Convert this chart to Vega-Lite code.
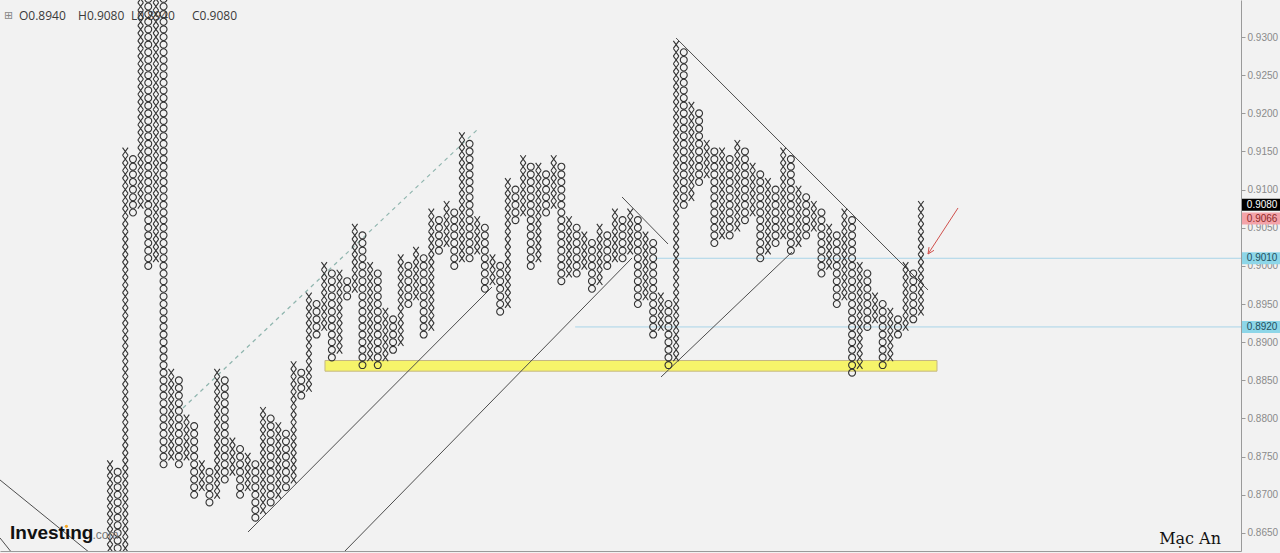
{
"$schema": "https://vega.github.io/schema/vega-lite/v6.json",
"width": 1241, "height": 551,
"autosize": {"type": "none"},
"padding": {"left": 0, "top": 0, "right": 39, "bottom": 2},
"background": "#f2f2f2",
"config": {"view": {"stroke": null}},
"datasets": {
"boxes": [
{"c":0,"t":"X","p":[0.862,0.863,0.864,0.865,0.866,0.867,0.868,0.869,0.870,0.871,0.872,0.873,0.874]},
{"c":1,"t":"O","p":[0.862,0.863,0.864,0.865,0.866,0.867,0.868,0.869,0.870,0.871,0.872,0.873]},
{"c":2,"t":"X","p":[0.862,0.863,0.864,0.865,0.866,0.867,0.868,0.869,0.870,0.871,0.872,0.873,0.874,0.875,0.876,0.877,0.878,0.879,0.880,0.881,0.882,0.883,0.884,0.885,0.886,0.887,0.888,0.889,0.890,0.891,0.892,0.893,0.894,0.895,0.896,0.897,0.898,0.899,0.900,0.901,0.902,0.903,0.904,0.905,0.906,0.907,0.908,0.909,0.910,0.911,0.912,0.913,0.914,0.915]},
{"c":3,"t":"O","p":[0.907,0.908,0.909,0.910,0.911,0.912,0.913,0.914]},
{"c":4,"t":"X","p":[0.908,0.909,0.910,0.911,0.912,0.913,0.914,0.915,0.916,0.917,0.918,0.919,0.920,0.921,0.922,0.923,0.924,0.925,0.926,0.927,0.928,0.929,0.930,0.931,0.932,0.933,0.934,0.935]},
{"c":5,"t":"O","p":[0.900,0.901,0.902,0.903,0.904,0.905,0.906,0.907,0.908,0.909,0.910,0.911,0.912,0.913,0.914,0.915,0.916,0.917,0.918,0.919,0.920,0.921,0.922,0.923,0.924,0.925,0.926,0.927,0.928,0.929,0.930,0.931,0.932,0.933,0.934,0.935]},
{"c":6,"t":"X","p":[0.901,0.902,0.903,0.904,0.905,0.906,0.907,0.908,0.909,0.910,0.911,0.912,0.913,0.914,0.915,0.916,0.917,0.918,0.919,0.920,0.921,0.922,0.923,0.924,0.925,0.926,0.927,0.928,0.929,0.930,0.931,0.932,0.933,0.934,0.935]},
{"c":7,"t":"O","p":[0.874,0.875,0.876,0.877,0.878,0.879,0.880,0.881,0.882,0.883,0.884,0.885,0.886,0.887,0.888,0.889,0.890,0.891,0.892,0.893,0.894,0.895,0.896,0.897,0.898,0.899,0.900,0.901,0.902,0.903,0.904,0.905,0.906,0.907,0.908,0.909,0.910,0.911,0.912,0.913,0.914,0.915,0.916,0.917,0.918,0.919,0.920,0.921,0.922,0.923,0.924,0.925,0.926,0.927,0.928,0.929,0.930,0.931,0.932,0.933,0.934,0.935]},
{"c":8,"t":"X","p":[0.875,0.876,0.877,0.878,0.879,0.880,0.881,0.882,0.883,0.884,0.885,0.886]},
{"c":9,"t":"O","p":[0.874,0.875,0.876,0.877,0.878,0.879,0.880,0.881,0.882,0.883,0.884,0.885]},
{"c":10,"t":"X","p":[0.875,0.876,0.877,0.878,0.879,0.880]},
{"c":11,"t":"O","p":[0.870,0.871,0.872,0.873,0.874,0.875,0.876,0.877,0.878,0.879]},
{"c":12,"t":"X","p":[0.871,0.872,0.873,0.874]},
{"c":13,"t":"O","p":[0.869,0.870,0.871,0.872,0.873]},
{"c":14,"t":"X","p":[0.870,0.871,0.872,0.873,0.874,0.875,0.876,0.877,0.878,0.879,0.880,0.881,0.882,0.883,0.884,0.885,0.886]},
{"c":15,"t":"O","p":[0.872,0.873,0.874,0.875,0.876,0.877,0.878,0.879,0.880,0.881,0.882,0.883,0.884,0.885]},
{"c":16,"t":"X","p":[0.873,0.874,0.875,0.876,0.877]},
{"c":17,"t":"O","p":[0.870,0.871,0.872,0.873,0.874,0.875,0.876]},
{"c":18,"t":"X","p":[0.871,0.872,0.873,0.874,0.875]},
{"c":19,"t":"O","p":[0.867,0.868,0.869,0.870,0.871,0.872,0.873,0.874]},
{"c":20,"t":"X","p":[0.868,0.869,0.870,0.871,0.872,0.873,0.874,0.875,0.876,0.877,0.878,0.879,0.880,0.881]},
{"c":21,"t":"O","p":[0.869,0.870,0.871,0.872,0.873,0.874,0.875,0.876,0.877,0.878,0.879,0.880]},
{"c":22,"t":"X","p":[0.870,0.871,0.872,0.873,0.874,0.875,0.876,0.877,0.878,0.879]},
{"c":23,"t":"O","p":[0.871,0.872,0.873,0.874,0.875,0.876,0.877,0.878]},
{"c":24,"t":"X","p":[0.872,0.873,0.874,0.875,0.876,0.877,0.878,0.879,0.880,0.881,0.882,0.883,0.884,0.885,0.886,0.887]},
{"c":25,"t":"O","p":[0.883,0.884,0.885,0.886]},
{"c":26,"t":"X","p":[0.884,0.885,0.886,0.887,0.888,0.889,0.890,0.891,0.892,0.893,0.894,0.895,0.896]},
{"c":27,"t":"O","p":[0.891,0.892,0.893,0.894,0.895]},
{"c":28,"t":"X","p":[0.892,0.893,0.894,0.895,0.896,0.897,0.898,0.899,0.900]},
{"c":29,"t":"O","p":[0.888,0.889,0.890,0.891,0.892,0.893,0.894,0.895,0.896,0.897,0.898,0.899]},
{"c":30,"t":"X","p":[0.889,0.890,0.891,0.892,0.893,0.894,0.895,0.896,0.897,0.898,0.899]},
{"c":31,"t":"O","p":[0.896,0.897,0.898]},
{"c":32,"t":"X","p":[0.897,0.898,0.899,0.900,0.901,0.902,0.903,0.904,0.905]},
{"c":33,"t":"O","p":[0.887,0.888,0.889,0.890,0.891,0.892,0.893,0.894,0.895,0.896,0.897,0.898,0.899,0.900,0.901,0.902,0.903,0.904]},
{"c":34,"t":"X","p":[0.888,0.889,0.890,0.891,0.892,0.893,0.894,0.895,0.896,0.897,0.898,0.899,0.900]},
{"c":35,"t":"O","p":[0.887,0.888,0.889,0.890,0.891,0.892,0.893,0.894,0.895,0.896,0.897,0.898,0.899]},
{"c":36,"t":"X","p":[0.888,0.889,0.890,0.891,0.892,0.893,0.894]},
{"c":37,"t":"O","p":[0.889,0.890,0.891,0.892,0.893]},
{"c":38,"t":"X","p":[0.890,0.891,0.892,0.893,0.894,0.895,0.896,0.897,0.898,0.899,0.900,0.901]},
{"c":39,"t":"O","p":[0.895,0.896,0.897,0.898,0.899,0.900]},
{"c":40,"t":"X","p":[0.896,0.897,0.898,0.899,0.900,0.901,0.902]},
{"c":41,"t":"O","p":[0.891,0.892,0.893,0.894,0.895,0.896,0.897,0.898,0.899,0.900,0.901]},
{"c":42,"t":"X","p":[0.892,0.893,0.894,0.895,0.896,0.897,0.898,0.899,0.900,0.901,0.902,0.903,0.904,0.905,0.906,0.907]},
{"c":43,"t":"O","p":[0.902,0.903,0.904,0.905,0.906]},
{"c":44,"t":"X","p":[0.903,0.904,0.905,0.906,0.907,0.908]},
{"c":45,"t":"O","p":[0.900,0.901,0.902,0.903,0.904,0.905,0.906,0.907]},
{"c":46,"t":"X","p":[0.901,0.902,0.903,0.904,0.905,0.906,0.907,0.908,0.909,0.910,0.911,0.912,0.913,0.914,0.915,0.916,0.917]},
{"c":47,"t":"O","p":[0.901,0.902,0.903,0.904,0.905,0.906,0.907,0.908,0.909,0.910,0.911,0.912,0.913,0.914,0.915,0.916]},
{"c":48,"t":"X","p":[0.902,0.903,0.904,0.905,0.906]},
{"c":49,"t":"O","p":[0.897,0.898,0.899,0.900,0.901,0.902,0.903,0.904,0.905]},
{"c":50,"t":"X","p":[0.898,0.899,0.900,0.901]},
{"c":51,"t":"O","p":[0.894,0.895,0.896,0.897,0.898,0.899,0.900]},
{"c":52,"t":"X","p":[0.895,0.896,0.897,0.898,0.899,0.900,0.901,0.902,0.903,0.904,0.905,0.906,0.907,0.908,0.909,0.910,0.911]},
{"c":53,"t":"O","p":[0.906,0.907,0.908,0.909,0.910]},
{"c":54,"t":"X","p":[0.907,0.908,0.909,0.910,0.911,0.912,0.913,0.914]},
{"c":55,"t":"O","p":[0.900,0.901,0.902,0.903,0.904,0.905,0.906,0.907,0.908,0.909,0.910,0.911,0.912,0.913]},
{"c":56,"t":"X","p":[0.901,0.902,0.903,0.904,0.905,0.906,0.907,0.908,0.909,0.910,0.911,0.912,0.913]},
{"c":57,"t":"O","p":[0.907,0.908,0.909,0.910,0.911,0.912]},
{"c":58,"t":"X","p":[0.908,0.909,0.910,0.911,0.912,0.913,0.914]},
{"c":59,"t":"O","p":[0.898,0.899,0.900,0.901,0.902,0.903,0.904,0.905,0.906,0.907,0.908,0.909,0.910,0.911,0.912,0.913]},
{"c":60,"t":"X","p":[0.899,0.900,0.901,0.902,0.903,0.904,0.905,0.906]},
{"c":61,"t":"O","p":[0.899,0.900,0.901,0.902,0.903,0.904,0.905]},
{"c":62,"t":"X","p":[0.900,0.901,0.902,0.903,0.904]},
{"c":63,"t":"O","p":[0.897,0.898,0.899,0.900,0.901,0.902,0.903]},
{"c":64,"t":"X","p":[0.898,0.899,0.900,0.901,0.902,0.903,0.904,0.905]},
{"c":65,"t":"O","p":[0.900,0.901,0.902,0.903,0.904]},
{"c":66,"t":"X","p":[0.901,0.902,0.903,0.904,0.905,0.906,0.907]},
{"c":67,"t":"O","p":[0.901,0.902,0.903,0.904,0.905,0.906]},
{"c":68,"t":"X","p":[0.902,0.903,0.904,0.905,0.906,0.907]},
{"c":69,"t":"O","p":[0.895,0.896,0.897,0.898,0.899,0.900,0.901,0.902,0.903,0.904,0.905,0.906]},
{"c":70,"t":"X","p":[0.896,0.897,0.898,0.899,0.900,0.901,0.902,0.903,0.904]},
{"c":71,"t":"O","p":[0.891,0.892,0.893,0.894,0.895,0.896,0.897,0.898,0.899,0.900,0.901,0.902,0.903]},
{"c":72,"t":"X","p":[0.892,0.893,0.894,0.895,0.896]},
{"c":73,"t":"O","p":[0.887,0.888,0.889,0.890,0.891,0.892,0.893,0.894,0.895]},
{"c":74,"t":"X","p":[0.888,0.889,0.890,0.891,0.892,0.893,0.894,0.895,0.896,0.897,0.898,0.899,0.900,0.901,0.902,0.903,0.904,0.905,0.906,0.907,0.908,0.909,0.910,0.911,0.912,0.913,0.914,0.915,0.916,0.917,0.918,0.919,0.920,0.921,0.922,0.923,0.924,0.925,0.926,0.927,0.928,0.929]},
{"c":75,"t":"O","p":[0.908,0.909,0.910,0.911,0.912,0.913,0.914,0.915,0.916,0.917,0.918,0.919,0.920,0.921,0.922,0.923,0.924,0.925,0.926,0.927,0.928]},
{"c":76,"t":"X","p":[0.909,0.910,0.911,0.912,0.913,0.914,0.915,0.916,0.917,0.918,0.919,0.920,0.921]},
{"c":77,"t":"O","p":[0.911,0.912,0.913,0.914,0.915,0.916,0.917,0.918,0.919,0.920]},
{"c":78,"t":"X","p":[0.912,0.913,0.914,0.915,0.916]},
{"c":79,"t":"O","p":[0.903,0.904,0.905,0.906,0.907,0.908,0.909,0.910,0.911,0.912,0.913,0.914,0.915]},
{"c":80,"t":"X","p":[0.904,0.905,0.906,0.907,0.908,0.909,0.910,0.911,0.912,0.913,0.914,0.915]},
{"c":81,"t":"O","p":[0.904,0.905,0.906,0.907,0.908,0.909,0.910,0.911,0.912,0.913,0.914]},
{"c":82,"t":"X","p":[0.905,0.906,0.907,0.908,0.909,0.910,0.911,0.912,0.913,0.914,0.915,0.916]},
{"c":83,"t":"O","p":[0.906,0.907,0.908,0.909,0.910,0.911,0.912,0.913,0.914,0.915]},
{"c":84,"t":"X","p":[0.907,0.908,0.909,0.910,0.911,0.912,0.913]},
{"c":85,"t":"O","p":[0.901,0.902,0.903,0.904,0.905,0.906,0.907,0.908,0.909,0.910,0.911,0.912]},
{"c":86,"t":"X","p":[0.902,0.903,0.904,0.905,0.906,0.907,0.908,0.909,0.910,0.911]},
{"c":87,"t":"O","p":[0.903,0.904,0.905,0.906,0.907,0.908,0.909,0.910]},
{"c":88,"t":"X","p":[0.904,0.905,0.906,0.907,0.908,0.909,0.910,0.911,0.912,0.913,0.914,0.915]},
{"c":89,"t":"O","p":[0.902,0.903,0.904,0.905,0.906,0.907,0.908,0.909,0.910,0.911,0.912,0.913,0.914]},
{"c":90,"t":"X","p":[0.903,0.904,0.905,0.906,0.907,0.908,0.909,0.910]},
{"c":91,"t":"O","p":[0.904,0.905,0.906,0.907,0.908,0.909]},
{"c":92,"t":"X","p":[0.905,0.906,0.907,0.908]},
{"c":93,"t":"O","p":[0.899,0.900,0.901,0.902,0.903,0.904,0.905,0.906,0.907]},
{"c":94,"t":"X","p":[0.900,0.901,0.902,0.903,0.904,0.905]},
{"c":95,"t":"O","p":[0.895,0.896,0.897,0.898,0.899,0.900,0.901,0.902,0.903,0.904]},
{"c":96,"t":"X","p":[0.896,0.897,0.898,0.899,0.900,0.901,0.902,0.903,0.904,0.905,0.906,0.907]},
{"c":97,"t":"O","p":[0.886,0.887,0.888,0.889,0.890,0.891,0.892,0.893,0.894,0.895,0.896,0.897,0.898,0.899,0.900,0.901,0.902,0.903,0.904,0.905,0.906]},
{"c":98,"t":"X","p":[0.887,0.888,0.889,0.890,0.891,0.892,0.893,0.894,0.895,0.896,0.897,0.898,0.899,0.900]},
{"c":99,"t":"O","p":[0.892,0.893,0.894,0.895,0.896,0.897,0.898,0.899]},
{"c":100,"t":"X","p":[0.893,0.894,0.895,0.896]},
{"c":101,"t":"O","p":[0.887,0.888,0.889,0.890,0.891,0.892,0.893,0.894,0.895]},
{"c":102,"t":"X","p":[0.888,0.889,0.890,0.891,0.892,0.893,0.894]},
{"c":103,"t":"O","p":[0.891,0.892,0.893]},
{"c":104,"t":"X","p":[0.892,0.893,0.894,0.895,0.896,0.897,0.898,0.899,0.900]},
{"c":105,"t":"O","p":[0.893,0.894,0.895,0.896,0.897,0.898,0.899]},
{"c":106,"t":"X","p":[0.894,0.895,0.896,0.897,0.898,0.899,0.900,0.901,0.902,0.903,0.904,0.905,0.906,0.907,0.908]}
],
"trend": [
{"id":"a1","c":-14.38,"p":0.87194},{"id":"a1","c":-2.61,"p":0.86237},
{"id":"a2","c":-14.38,"p":0.86434},{"id":"a2","c":-12.81,"p":0.86237},
{"id":"b","c":18.04,"p":0.86512},{"id":"b","c":49.93,"p":0.89723},
{"id":"c","c":30.46,"p":0.86237},{"id":"c","c":68.24,"p":0.90104},
{"id":"d","c":66.93,"p":0.90903},{"id":"d","c":72.94,"p":0.90287},
{"id":"e","c":72.03,"p":0.88544},{"id":"e","c":89.15,"p":0.90182},
{"id":"f","c":73.99,"p":0.92987},{"id":"f","c":106.93,"p":0.89684}
],
"arrow": [
{"id":"s","c":110.85,"p":0.90759},{"id":"s","c":106.93,"p":0.90156},
{"id":"w1","c":106.93,"p":0.90156},{"id":"w1","c":107.71,"p":0.90204},
{"id":"w2","c":106.93,"p":0.90156},{"id":"w2","c":107.06,"p":0.90246}
],
"tclose": [{"c":147.97,"c2":152.94,"ct":148.6,"p":0.908,"lab":"0.9080"}],
"tprev": [{"c":147.97,"c2":152.94,"ct":148.6,"p":0.9066,"lab":"0.9066"}],
"tlvl": [{"c":147.97,"c2":152.94,"ct":148.6,"p":0.901,"lab":"0.9010"},{"c":147.97,"c2":152.94,"ct":148.6,"p":0.892,"lab":"0.8920"}]
},
"encoding": {
"x": {"field":"c","type":"quantitative","scale":{"domain":[-14.38,147.84],"nice":false,"zero":false},"axis":{"orient":"bottom","labels":false,"ticks":false,"grid":false,"domain":true,"domainColor":"#9a9a9a","title":null}},
"y": {"field":"p","type":"quantitative","scale":{"domain":[0.86263,0.93485],"nice":false,"zero":false},"axis":{"orient":"right","values":[0.865,0.87,0.875,0.88,0.885,0.89,0.895,0.9,0.905,0.91,0.915,0.92,0.925,0.93],"format":".4f","grid":false,"domainColor":"#9a9a9a","tickColor":"#9a9a9a","tickSize":4,"labelColor":"#8a8a8a","labelFont":"Liberation Sans","labelFontSize":10,"labelPadding":2,"title":null}}
},
"layer": [
{"data":{"values":[{"c":28.1,"c2":108.1,"p":0.8876,"p2":0.8862}]},"mark":{"type":"rect","fill":"#f6f46a","stroke":"#c4b784","strokeWidth":1},"encoding":{"x2":{"field":"c2"},"y2":{"field":"p2"}}},
{"data":{"values":[{"c":71.2,"c2":147.84,"p":0.901},{"c":60.8,"c2":147.84,"p":0.892}]},"mark":{"type":"rule","color":"#a8d4e8","strokeWidth":1},"encoding":{"x2":{"field":"c2"}}},
{"data":{"name":"trend"},"mark":{"type":"line","color":"#4d4d4d","strokeWidth":1,"clip":true},"encoding":{"detail":{"field":"id"}}},
{"data":{"values":[{"c":9.54,"p":0.88138},{"c":47.97,"p":0.91781}]},"mark":{"type":"line","color":"#8fb5ae","strokeWidth":1.2,"strokeDash":[4,4]},"encoding":{}},
{"data":{"name":"boxes"},"transform":[{"flatten":["p"]}],"mark":{"type":"point","filled":false,"strokeWidth":1.1,"opacity":1,"clip":true},"encoding":{"shape":{"field":"t","type":"nominal","scale":{"domain":["X","O"],"range":["M-0.8,-1.1L0.8,1.1M0.8,-1.1L-0.8,1.1","circle"]},"legend":null},"color":{"value":"#333333"},"size":{"value":48}}},
{"data":{"name":"arrow"},"mark":{"type":"line","color":"#d0504c","strokeWidth":1},"encoding":{"detail":{"field":"id"},"order":{"field":"c"}}},
{"data":{"name":"tclose"},"mark":{"type":"rule","color":"#000000","strokeWidth":12},"encoding":{"x2":{"field":"c2"}}},
{"data":{"name":"tclose"},"mark":{"type":"text","align":"left","baseline":"middle","font":"Liberation Sans","fontSize":10,"color":"#ffffff"},"encoding":{"x":{"field":"ct","type":"quantitative"},"text":{"field":"lab"}}},
{"data":{"name":"tprev"},"mark":{"type":"rule","color":"#f4a3a9","strokeWidth":12,"yOffset":3},"encoding":{"x2":{"field":"c2"}}},
{"data":{"name":"tprev"},"mark":{"type":"text","align":"left","baseline":"middle","font":"Liberation Sans","fontSize":10,"color":"#8c2a2a","yOffset":3},"encoding":{"x":{"field":"ct","type":"quantitative"},"text":{"field":"lab"}}},
{"data":{"name":"tlvl"},"mark":{"type":"rule","color":"#8dd6e8","strokeWidth":12},"encoding":{"x2":{"field":"c2"}}},
{"data":{"name":"tlvl"},"mark":{"type":"text","align":"left","baseline":"middle","font":"Liberation Sans","fontSize":10,"color":"#23505e"},"encoding":{"x":{"field":"ct","type":"quantitative"},"text":{"field":"lab"}}},
{"data":{"values":[{"c":-13.27,"p":0.93275,"lab":"⊞"}]},"mark":{"type":"text","align":"center","baseline":"middle","font":"DejaVu Sans","fontSize":11,"color":"#888888"},"encoding":{"text":{"field":"lab"}}},
{"data":{"values":[{"c":-11.9,"p":0.93275,"lab":"O0.8940"},{"c":-4.18,"p":0.93275,"lab":"H0.9080"},{"c":2.75,"p":0.93275,"lab":"L0.8940"},{"c":10.72,"p":0.93275,"lab":"C0.9080"}]},"mark":{"type":"text","align":"left","baseline":"middle","font":"Open Sans","fontSize":12,"color":"#3a3a3a"},"encoding":{"text":{"field":"lab"}}},
{"data":{"values":[{"c":-13.07,"p":0.86421,"lab":"Investıng"}]},"mark":{"type":"text","align":"left","baseline":"alphabetic","font":"Liberation Sans","fontWeight":"bold","fontSize":19,"color":"#111111"},"encoding":{"text":{"field":"lab"}}},
{"data":{"values":[{"c":-2.3,"p":0.86421,"lab":".com"}]},"mark":{"type":"text","align":"left","baseline":"alphabetic","font":"Liberation Sans","fontSize":12,"color":"#777777"},"encoding":{"text":{"field":"lab"}}},
{"data":{"values":[{"c":-5.7,"p":0.86586}]},"mark":{"type":"point","filled":true,"opacity":1,"color":"#f5a623","size":10},"encoding":{}},
{"data":{"values":[{"c":141.18,"p":0.86421,"lab":"Mạc An"}]},"mark":{"type":"text","align":"center","baseline":"middle","font":"DejaVu Serif","fontSize":16,"color":"#111111"},"encoding":{"text":{"field":"lab"}}}
]
}
